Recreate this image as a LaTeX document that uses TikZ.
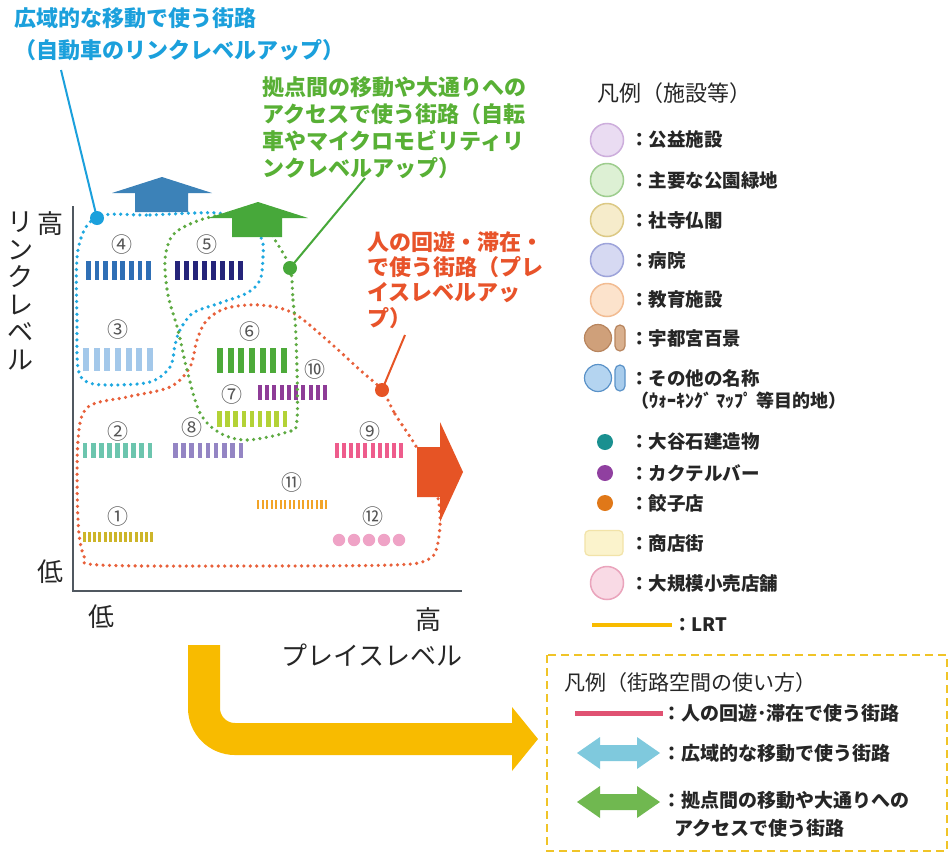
\documentclass[tikz,border=0pt]{standalone}
\usepackage{fontspec}
\setmainfont{Noto Sans CJK JP}
\definecolor{txt}{HTML}{262626}
\definecolor{numg}{HTML}{555555}
\definecolor{tblue}{HTML}{1BA0DC}
\definecolor{tgreen}{HTML}{58B035}
\definecolor{torange}{HTML}{E8532A}
\definecolor{dblue}{HTML}{1EA8E0}
\definecolor{dgreen}{HTML}{5EAA42}
\definecolor{dorange}{HTML}{E8603A}
\definecolor{arblue}{HTML}{3C82B8}
\definecolor{argreen}{HTML}{47A83A}
\definecolor{arorange}{HTML}{E65425}
\definecolor{yel}{HTML}{F8BB00}
\definecolor{axisg}{HTML}{505860}
% bars
\definecolor{b4}{HTML}{2F6FB5}
\definecolor{b5}{HTML}{25247A}
\definecolor{b3}{HTML}{A3C8EA}
\definecolor{b6}{HTML}{4DAA3A}
\definecolor{b10}{HTML}{8E3C97}
\definecolor{b7}{HTML}{B3D236}
\definecolor{b2}{HTML}{6CC5AE}
\definecolor{b8}{HTML}{9485C4}
\definecolor{b9}{HTML}{EE5C8C}
\definecolor{b11}{HTML}{F2A428}
\definecolor{b1}{HTML}{CDB52A}
\definecolor{b12}{HTML}{EFA3C6}
% legend
\definecolor{f1}{HTML}{EADCF2}\definecolor{e1}{HTML}{CDAEDC}
\definecolor{f2}{HTML}{DDF0D4}\definecolor{e2}{HTML}{9ECD8E}
\definecolor{f3}{HTML}{F6ECCB}\definecolor{e3}{HTML}{DCC985}
\definecolor{f4}{HTML}{D6D9F2}\definecolor{e4}{HTML}{9EA4DA}
\definecolor{f5}{HTML}{FCE3CC}\definecolor{e5}{HTML}{F2BC92}
\definecolor{f6}{HTML}{CFA07A}\definecolor{f6b}{HTML}{D9B08E}\definecolor{e6}{HTML}{B8855E}
\definecolor{f7}{HTML}{B4D4F0}\definecolor{f7b}{HTML}{A8CCEC}\definecolor{e7}{HTML}{5A92C8}
\definecolor{f8}{HTML}{1A9090}
\definecolor{f9}{HTML}{9040A0}
\definecolor{f10}{HTML}{E07818}
\definecolor{f11}{HTML}{FBF3CC}\definecolor{e11}{HTML}{F2E3A8}
\definecolor{f12}{HTML}{F9DAE5}\definecolor{e12}{HTML}{EAA4BC}
\definecolor{boxy}{HTML}{F0C428}
\definecolor{pinkl}{HTML}{E05272}
\definecolor{cyanar}{HTML}{7FC9DD}
\definecolor{greenar}{HTML}{70B850}
\newcommand\stripes[6]{%
  \pgfmathsetmacro\strpitch{(#2-#1)/(#5-0.45)}%
  \foreach \k in {1,...,#5}{%
    \pgfmathsetmacro\strxa{#1+(\k-1)*\strpitch}%
    \fill[#6] (\strxa,#3) rectangle ++(0.55*\strpitch,#4-#3);
  }}
\tikzset{
  dotline/.style={line width=3.6pt, dash pattern=on 0pt off 6.4pt, line cap=round},
  num/.style={font=\fontsize{21}{21}\selectfont, text=numg, inner sep=0},
  axl/.style={font=\fontsize{26}{27.6}\selectfont, text=txt, inner sep=0},
  lgt/.style={font=\bfseries\fontsize{18.5}{22}\selectfont, text=txt, anchor=west, inner sep=0},
  lgb/.style={font=\bfseries\fontsize{19}{28}\selectfont, text=txt, anchor=west, inner sep=0, align=left},
  ltitle/.style={font=\fontsize{21}{24}\selectfont, text=txt, anchor=west, inner sep=0},
  fcirc/.style={circle, line width=1.5pt, minimum size=33pt, inner sep=0},
  sdot/.style={circle, minimum size=16pt, inner sep=0},
  pill/.style={rounded corners=5pt, minimum width=10pt, minimum height=26pt, inner sep=0, line width=1.2pt},
  lead/.style={line width=2pt},
  ann/.style={font=\bfseries\fontsize{22}{27}\selectfont, anchor=north west, inner sep=0, align=left},
}
\begin{document}
\begin{tikzpicture}[x=1pt,y=-1pt]
\useasboundingbox (0,0) rectangle (950,857);
\fill[white] (0,0) rectangle (950,857);

% ---------- title texts ----------
\node[ann, text=tblue, font=\bfseries\fontsize{22}{32}\selectfont] (ttl) at (14,7) {広域的な移動で使う街路\\（自動車のリンクレベルアップ）};
\node[ann, text=tgreen] (gtxt) at (262,76) {拠点間の移動や大通りへの\\アクセスで使う街路（自転\\車やマイクロモビリティリ\\ンクレベルアップ）};
\node[ann, text=torange, font=\bfseries\fontsize{22}{25.3}\selectfont] (otxt) at (367,231) {人の回遊・滞在・\\で使う街路（プレ\\イスレベルアッ\\プ）};

% ---------- axes ----------
\coordinate (ax0) at (73,591);
\coordinate (axy) at (73,206);
\coordinate (axx) at (462,591);
\draw[axisg, line width=1.5pt] (axy) -- (ax0) -- (axx);
\node[axl] (yhi) at (50,224) {高};
\node[axl] (ylo) at (50,572) {低};
\node[axl, align=center] (ylab) at (21,291) {リ\\ン\\ク\\レ\\ベ\\ル};
\node[axl] (xlo) at (101,617) {低};
\node[axl] (xhi) at (428,620) {高};
\node[axl] (xlab) at (372,655) {プレイスレベル};

% ---------- bars ----------
\stripes{86}{151}{261}{280}{8}{b4}
\stripes{175}{243}{261}{280}{8}{b5}
\stripes{83}{153}{348}{371}{7}{b3}
\stripes{217}{287}{348}{373}{7}{b6}
\stripes{258}{327}{385}{400}{10}{b10}
\stripes{217}{287}{411}{427}{9}{b7}
\stripes{83}{152}{443}{458}{9}{b2}
\stripes{173}{243}{443}{458}{9}{b8}
\stripes{335}{403}{443}{458}{10}{b9}
\stripes{257}{327}{500}{509}{16}{b11}
\stripes{83}{153}{532}{542}{14}{b1}
\foreach \cx in {339,354,369,384,399}{\fill[b12] (\cx,540) circle (6.2pt);}

% ---------- numbers ----------
\node[num] (n1) at (118,517) {①};
\node[num] (n2) at (118,432) {②};
\node[num] (n3) at (118,330) {③};
\node[num] (n4) at (122,245) {④};
\node[num] (n5) at (207,245) {⑤};
\node[num] (n6) at (250,332) {⑥};
\node[num] (n7) at (232,395) {⑦};
\node[num] (n8) at (192,428) {⑧};
\node[num] (n9) at (370,432) {⑨};
\node[num] (n10) at (315,370) {⑩};
\node[num] (n11) at (292,483) {⑪};
\node[num] (n12) at (373,517) {⑫};

% ---------- dotted regions ----------
\draw[dotline, dorange] plot[smooth cycle, tension=0.55] coordinates {
 (382,390) (395,414) (414,443) (432,475) (440,513) (437,547) (427,560) (393,565)
 (250,566) (100,565) (84,556) (78,520) (78,440) (88,407) (127,397) (170,387)
 (190,367) (197,340) (207,320) (227,308) (260,305) (293,313) (327,340) (360,370)};
\draw[dotline, dblue] plot[smooth cycle, tension=0.55] coordinates {
 (97,217) (150,215) (217,213) (250,222) (262,240) (263,257) (260,280) (247,293)
 (220,303) (193,313) (180,330) (175,345) (170,367) (150,382) (110,385) (87,382)
 (78,368) (77,323) (78,250)};
\draw[dotline, dgreen] plot[smooth cycle, tension=0.55] coordinates {
 (290,268) (293,300) (296,337) (297,420) (287,432) (247,440) (220,433) (200,413)
 (187,370) (178,330) (168,295) (165,260) (172,236) (190,224) (215,216) (255,212)
 (275,240)};

% ---------- arrows ----------
\fill[arblue] (135,212) -- (135,193) -- (112,193) -- (162,177) -- (212,193) -- (188,193) -- (188,212) -- cycle;
\fill[argreen] (232,237) -- (232,218) -- (208,218) -- (258,202) -- (308,218) -- (282,218) -- (282,237) -- cycle;
\fill[arorange] (417,447) -- (440,447) -- (440,422) -- (463,472) -- (440,522) -- (440,497) -- (417,497) -- cycle;

% ---------- leader lines ----------
\node[circle, fill=tblue, minimum size=14pt, inner sep=0] (bdot) at (97,218) {};
\node[circle, fill=argreen, minimum size=14pt, inner sep=0] (gdot) at (290,268) {};
\node[circle, fill=arorange, minimum size=14pt, inner sep=0] (odot) at (382,390) {};
\coordinate (bl) at (61,70);
\coordinate (gl) at (365,178);
\coordinate (ol) at (405,335);
\draw[lead, tblue] (bl) -- (bdot.center);
\draw[lead, argreen] (gl) -- (gdot.center);
\draw[lead, arorange] (ol) -- (odot.center);

% ---------- yellow bent arrow ----------
\draw[yel, line width=32pt, rounded corners=31pt] (204,645) -- (204,739) -- (513,739);
\fill[yel] (512,707) -- (538,739) -- (512,771) -- cycle;

% ---------- legend (facilities) ----------
\node[ltitle, font=\fontsize{22}{24}\selectfont] (lt1) at (597,93) {凡例（施設等）};
\node[fcirc, fill=f1, draw=e1] (c1) at (607,140) {};
\node[lgt] (l1) at (630,140) {：公益施設};
\node[fcirc, fill=f2, draw=e2] (c2) at (607,180) {};
\node[lgt] (l2) at (630,180) {：主要な公園緑地};
\node[fcirc, fill=f3, draw=e3] (c3) at (607,220) {};
\node[lgt] (l3) at (630,220) {：社寺仏閣};
\node[fcirc, fill=f4, draw=e4] (c4) at (607,260) {};
\node[lgt] (l4) at (630,260) {：病院};
\node[fcirc, fill=f5, draw=e5] (c5) at (607,300) {};
\node[lgt] (l5) at (630,300) {：教育施設};
\node[circle, minimum size=27pt, inner sep=0, fill=f6, draw=e6, line width=1.2pt] (c6) at (598,338) {};
\node[pill, fill=f6b, draw=e6] (p6) at (620,338) {};
\node[lgt] (l6) at (630,338) {：宇都宮百景};
\node[circle, minimum size=27pt, inner sep=0, fill=f7, draw=e7, line width=1.2pt] (c7) at (598,378) {};
\node[pill, fill=f7b, draw=e7] (p7) at (620,378) {};
\node[lgt] (l7) at (630,378) {：その他の名称};
\node[lgt, font=\bfseries\fontsize{18}{20}\selectfont] (l7b) at (631,401) {（ｳｫｰｷﾝｸﾞ ﾏｯﾌﾟ 等目的地）};
\node[sdot, fill=f8] (c8) at (605,442) {};
\node[lgt] (l8) at (630,442) {：大谷石建造物};
\node[sdot, fill=f9] (c9) at (605,473) {};
\node[lgt] (l9) at (630,473) {：カクテルバー};
\node[sdot, fill=f10] (c10) at (605,503) {};
\node[lgt] (l10) at (630,503) {：餃子店};
\node[rectangle, rounded corners=4pt, minimum width=38pt, minimum height=25pt, inner sep=0, fill=f11, draw=e11, line width=1.2pt] (c11) at (604,543) {};
\node[lgt] (l11) at (630,543) {：商店街};
\node[fcirc, fill=f12, draw=e12] (c12) at (607,583) {};
\node[lgt] (l12) at (630,583) {：大規模小売店舗};
\coordinate (lrta) at (592,625);
\coordinate (lrtb) at (672,625);
\draw[yel, line width=4pt] (lrta) -- (lrtb);
\node[lgt] (l13) at (673,625) {：LRT};

% ---------- legend (street use) ----------
\draw[boxy, line width=2pt, dash pattern=on 8pt off 5pt] (547,655) rectangle (947,851);
\node[ltitle] (lt2) at (564,683) {凡例（街路空間の使い方）};
\coordinate (pka) at (575,713);
\coordinate (pkb) at (663,713);
\draw[pinkl, line width=5pt] (pka) -- (pkb);
\node[lgb] (s1) at (662,713) {：人の回遊･滞在で使う街路};
\fill[cyanar] (577,753) -- (600,737) -- (600,745) -- (637,745) -- (637,737) -- (660,753) -- (637,769) -- (637,761) -- (600,761) -- (600,769) -- cycle;
\node[lgb] (s2) at (662,753) {：広域的な移動で使う街路};
\fill[greenar] (577,802) -- (600,786) -- (600,794) -- (637,794) -- (637,786) -- (660,802) -- (637,818) -- (637,810) -- (600,810) -- (600,818) -- cycle;
\node[lgb, anchor=north west] (s3) at (662,791) {：拠点間の移動や大通りへの\\\hspace{0.63em}アクセスで使う街路};
\end{tikzpicture}
\end{document}
